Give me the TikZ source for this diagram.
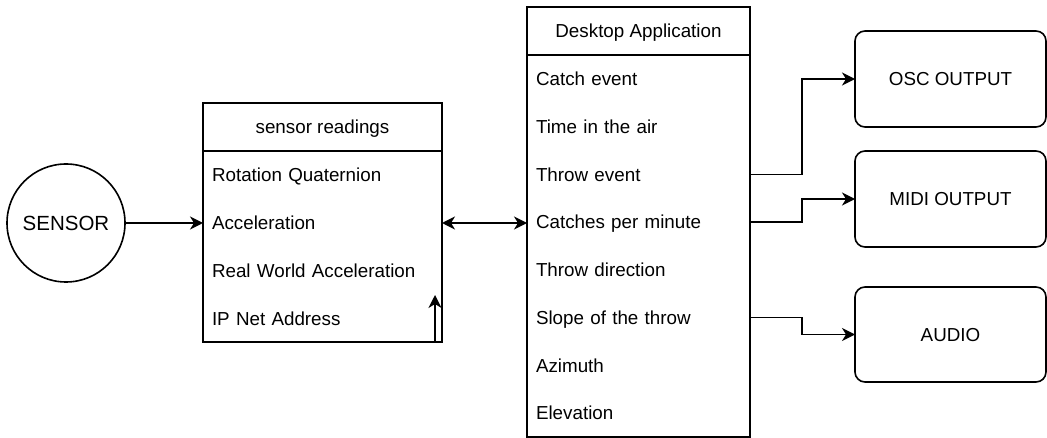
\documentclass[tikz,border=0pt]{standalone}
\usepackage{fontspec}
\setmainfont{Liberation Sans}
\usetikzlibrary{arrows.meta}
\begin{document}
\begin{tikzpicture}[x=1pt,y=-1pt, line width=1.6pt,
  font=\fontsize{18.8}{22}\selectfont,
  every node/.style={inner sep=0pt, outer sep=0pt},
  boxpart/.style={rectangle, draw, anchor=north west, text height=13.5pt, text depth=0pt},
  srow/.style={rectangle, anchor=north west, minimum height=48pt, text width=221pt, align=left, inner xsep=9pt, text height=13.5pt, text depth=0pt},
  drow/.style={rectangle, anchor=north west, minimum height=47.75pt, text width=205pt, align=left, inner xsep=9pt, text height=13.5pt, text depth=0pt},
  outbox/.style={rectangle, draw, rounded corners=10pt, minimum width=191pt, minimum height=96pt, text height=13.5pt, text depth=0pt},
  arr/.style={-{Stealth[length=13pt,width=13pt,inset=4pt]}},
  darr/.style={{Stealth[length=13pt,width=13pt,inset=4pt]}-{Stealth[length=13pt,width=13pt,inset=4pt]}}]
\useasboundingbox (0,0) rectangle (1047,438);

% sensor
\node[circle, draw, minimum size=118pt, font=\fontsize{20.5}{24}\selectfont, text height=14.7pt, text depth=0pt] (sensor) at (66,223) {SENSOR};

% sensor readings
\node[boxpart, minimum width=239pt, minimum height=48pt] (srh) at (203,103) {sensor readings};
\node[boxpart, minimum width=239pt, minimum height=191pt] (srb) at (srh.south west) {};
\node[srow] (s1) at (203,151) {Rotation Quaternion};
\node[srow] (s2) at (s1.south west) {Acceleration};
\node[srow] (s3) at (s2.south west) {Real World Acceleration};
\node[srow] (s4) at (s3.south west) {IP Net Address};

% desktop application
\node[boxpart, minimum width=223pt, minimum height=48pt] (dah) at (527,7) {Desktop Application};
\node[boxpart, minimum width=223pt, minimum height=382pt] (dab) at (dah.south west) {};
\node[drow] (d1) at (527,55) {Catch event};
\node[drow] (d2) at (d1.south west) {Time in the air};
\node[drow] (d3) at (d2.south west) {Throw event};
\node[drow] (d4) at (d3.south west) {Catches per minute};
\node[drow] (d5) at (d4.south west) {Throw direction};
\node[drow] (d6) at (d5.south west) {Slope of the throw};
\node[drow] (d7) at (d6.south west) {Azimuth};
\node[drow] (d8) at (d7.south west) {Elevation};

% outputs
\node[outbox] (osc) at (950.5,79) {OSC OUTPUT};
\node[outbox] (midi) at (950.5,199) {MIDI OUTPUT};
\node[outbox, minimum height=95pt] (audio) at (950.5,334.5) {AUDIO};

% connectors
\draw[arr] (sensor.east) -- (s2.west);
\draw[darr] (s2.east) -- (s2.east -| d4.west);
\coordinate (loopb) at (435,342);
\draw[arr] (loopb) -- ++(0,-47);
\draw[arr] (d3.east) -- ++(52,0) |- (osc.west);
\draw[arr] (d4.east) -- ++(52,0) |- (midi.west);
\draw[arr] (d6.east) -- ++(52,0) |- (audio.west);
\end{tikzpicture}
\end{document}
